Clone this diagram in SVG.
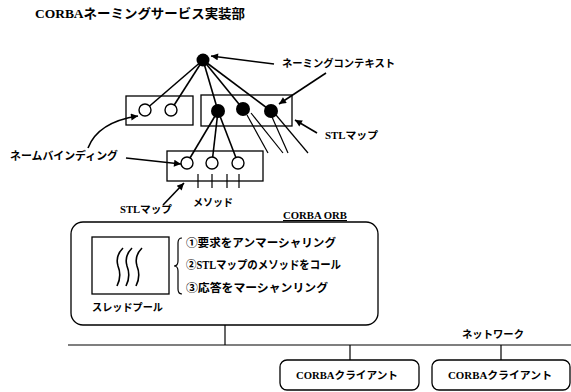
<svg xmlns="http://www.w3.org/2000/svg" width="571" height="392" viewBox="0 0 571 392">
<style>
.t{font-family:"Liberation Serif","Noto Sans CJK JP",serif;font-weight:bold;fill:#000}
.ln{stroke:#000;stroke-width:1.6;fill:none}
.thin{stroke:#000;stroke-width:1.2;fill:none}
.box{fill:none;stroke:#000;stroke-width:1.3}
.oc{fill:#fff;stroke:#000;stroke-width:1.4}
.fc{fill:#000}
</style>
<defs>
<marker id="ah" viewBox="0 0 10 10" refX="10" refY="5" markerWidth="10" markerHeight="7" markerUnits="userSpaceOnUse" orient="auto"><path d="M0,0L10,5L0,10z" fill="#000"/></marker>
</defs>
<rect width="571" height="392" fill="#fff"/>
<text class="t" x="35" y="18" font-size="13" textLength="210" lengthAdjust="spacingAndGlyphs">CORBAネーミングサービス実装部</text>

<g id="connectors">
<line class="ln" x1="203" y1="60" x2="145" y2="110"/>
<line class="ln" x1="203" y1="60" x2="171" y2="110"/>
<line class="ln" x1="203" y1="60" x2="218" y2="111"/>
<line class="ln" x1="203" y1="60" x2="243" y2="109"/>
<line class="ln" x1="203" y1="60" x2="271" y2="111"/>
<line class="ln" x1="218" y1="111" x2="187" y2="163"/>
<line class="ln" x1="218" y1="111" x2="212" y2="163"/>
<line class="ln" x1="218" y1="111" x2="238" y2="163"/>
<line class="thin" x1="247" y1="115" x2="268" y2="153"/>
<line class="thin" x1="251" y1="113" x2="283" y2="153"/>
<line class="thin" x1="272" y1="117" x2="288" y2="153"/>
<line class="thin" x1="276" y1="115" x2="308" y2="153"/>
<line class="ln" x1="274" y1="64" x2="211" y2="56" marker-end="url(#ah)"/>
<line class="ln" x1="326" y1="73" x2="279" y2="104" marker-end="url(#ah)"/>
<line class="ln" x1="317" y1="133" x2="295" y2="120" marker-end="url(#ah)"/>
<path class="ln" d="M88,148 Q98,122 138,116" marker-end="url(#ah)"/>
<line class="ln" x1="126" y1="158" x2="181" y2="164" marker-end="url(#ah)"/>
<line class="ln" x1="163" y1="205" x2="184" y2="183" marker-end="url(#ah)"/>
<line class="thin" x1="225" y1="325" x2="225" y2="345"/>
<line class="thin" x1="68" y1="345" x2="571" y2="345"/>
<line class="thin" x1="350" y1="345" x2="350" y2="360"/>
<line class="thin" x1="501" y1="345" x2="501" y2="360"/>
</g>

<g id="root-context">
<circle class="fc" cx="203" cy="60" r="6.5"/>
<text class="t" x="282" y="67" font-size="10.5" textLength="113" lengthAdjust="spacingAndGlyphs">ネーミングコンテキスト</text>
</g>

<g id="stl-map-left">
<rect class="box" x="126" y="96" width="67" height="29"/>
<circle class="oc" cx="145" cy="110" r="6"/>
<circle class="oc" cx="171" cy="110" r="6"/>
</g>

<g id="stl-map-right">
<rect class="box" x="201" y="95" width="91" height="31"/>
<circle class="fc" cx="218" cy="111" r="7"/>
<circle class="fc" cx="243" cy="109" r="7"/>
<circle class="fc" cx="271" cy="111" r="7"/>
<text class="t" x="325" y="139" font-size="10.5" textLength="53" lengthAdjust="spacingAndGlyphs">STLマップ</text>
</g>

<g id="name-binding-label">
<text class="t" x="10" y="160" font-size="11" textLength="108" lengthAdjust="spacingAndGlyphs">ネームバインディング</text>
</g>

<g id="stl-map-bottom">
<rect class="box" x="167" y="151" width="96" height="30"/>
<circle class="oc" cx="187" cy="163" r="6"/>
<circle class="oc" cx="212" cy="163" r="6"/>
<circle class="oc" cx="238" cy="163" r="6"/>
<path class="thin" d="M198,174V188M212,174V188M227,174V188M239,174V188"/>
<text class="t" x="120" y="213" font-size="10.5" textLength="52" lengthAdjust="spacingAndGlyphs">STLマップ</text>
<text class="t" x="193" y="206" font-size="10.5" textLength="40" lengthAdjust="spacingAndGlyphs">メソッド</text>
</g>

<g id="corba-orb">
<rect class="box" x="71" y="222" width="307" height="103" rx="12"/>
<text class="t" x="283" y="219" font-size="11" textLength="64" lengthAdjust="spacingAndGlyphs" text-decoration="underline">CORBA ORB</text>
<rect class="box" x="92" y="237" width="77" height="57"/>
<path class="ln" d="M123,248 Q115,256 118,266 Q122,276 117,286M132,248 Q124,256 127,266 Q131,276 126,286M142,248 Q134,256 137,266 Q141,276 136,286"/>
<text class="t" x="92" y="311" font-size="10.5" textLength="71" lengthAdjust="spacingAndGlyphs">スレッドプール</text>
<path class="thin" d="M182,238 Q178,238 178,243 L178,261 Q178,266 174,266 Q178,266 178,271 L178,289 Q178,294 182,294"/>
<text class="t" x="186" y="247" font-size="11.5" textLength="150" lengthAdjust="spacingAndGlyphs">①要求をアンマーシャリング</text>
<text class="t" x="186" y="269" font-size="11.5" textLength="155" lengthAdjust="spacingAndGlyphs">②STLマップのメソッドをコール</text>
<text class="t" x="186" y="292" font-size="11.5" textLength="142" lengthAdjust="spacingAndGlyphs">③応答をマーシャンリング</text>
</g>

<g id="network">
<text class="t" x="462" y="338" font-size="10.5" textLength="62" lengthAdjust="spacingAndGlyphs">ネットワーク</text>
</g>

<g id="client-1">
<rect class="box" x="280" y="360" width="139" height="30" rx="7"/>
<text class="t" x="296" y="379" font-size="10.5" textLength="102" lengthAdjust="spacingAndGlyphs">CORBAクライアント</text>
</g>

<g id="client-2">
<rect class="box" x="432" y="360" width="138" height="30" rx="7"/>
<text class="t" x="448" y="379" font-size="10.5" textLength="104" lengthAdjust="spacingAndGlyphs">CORBAクライアント</text>
</g>
</svg>
